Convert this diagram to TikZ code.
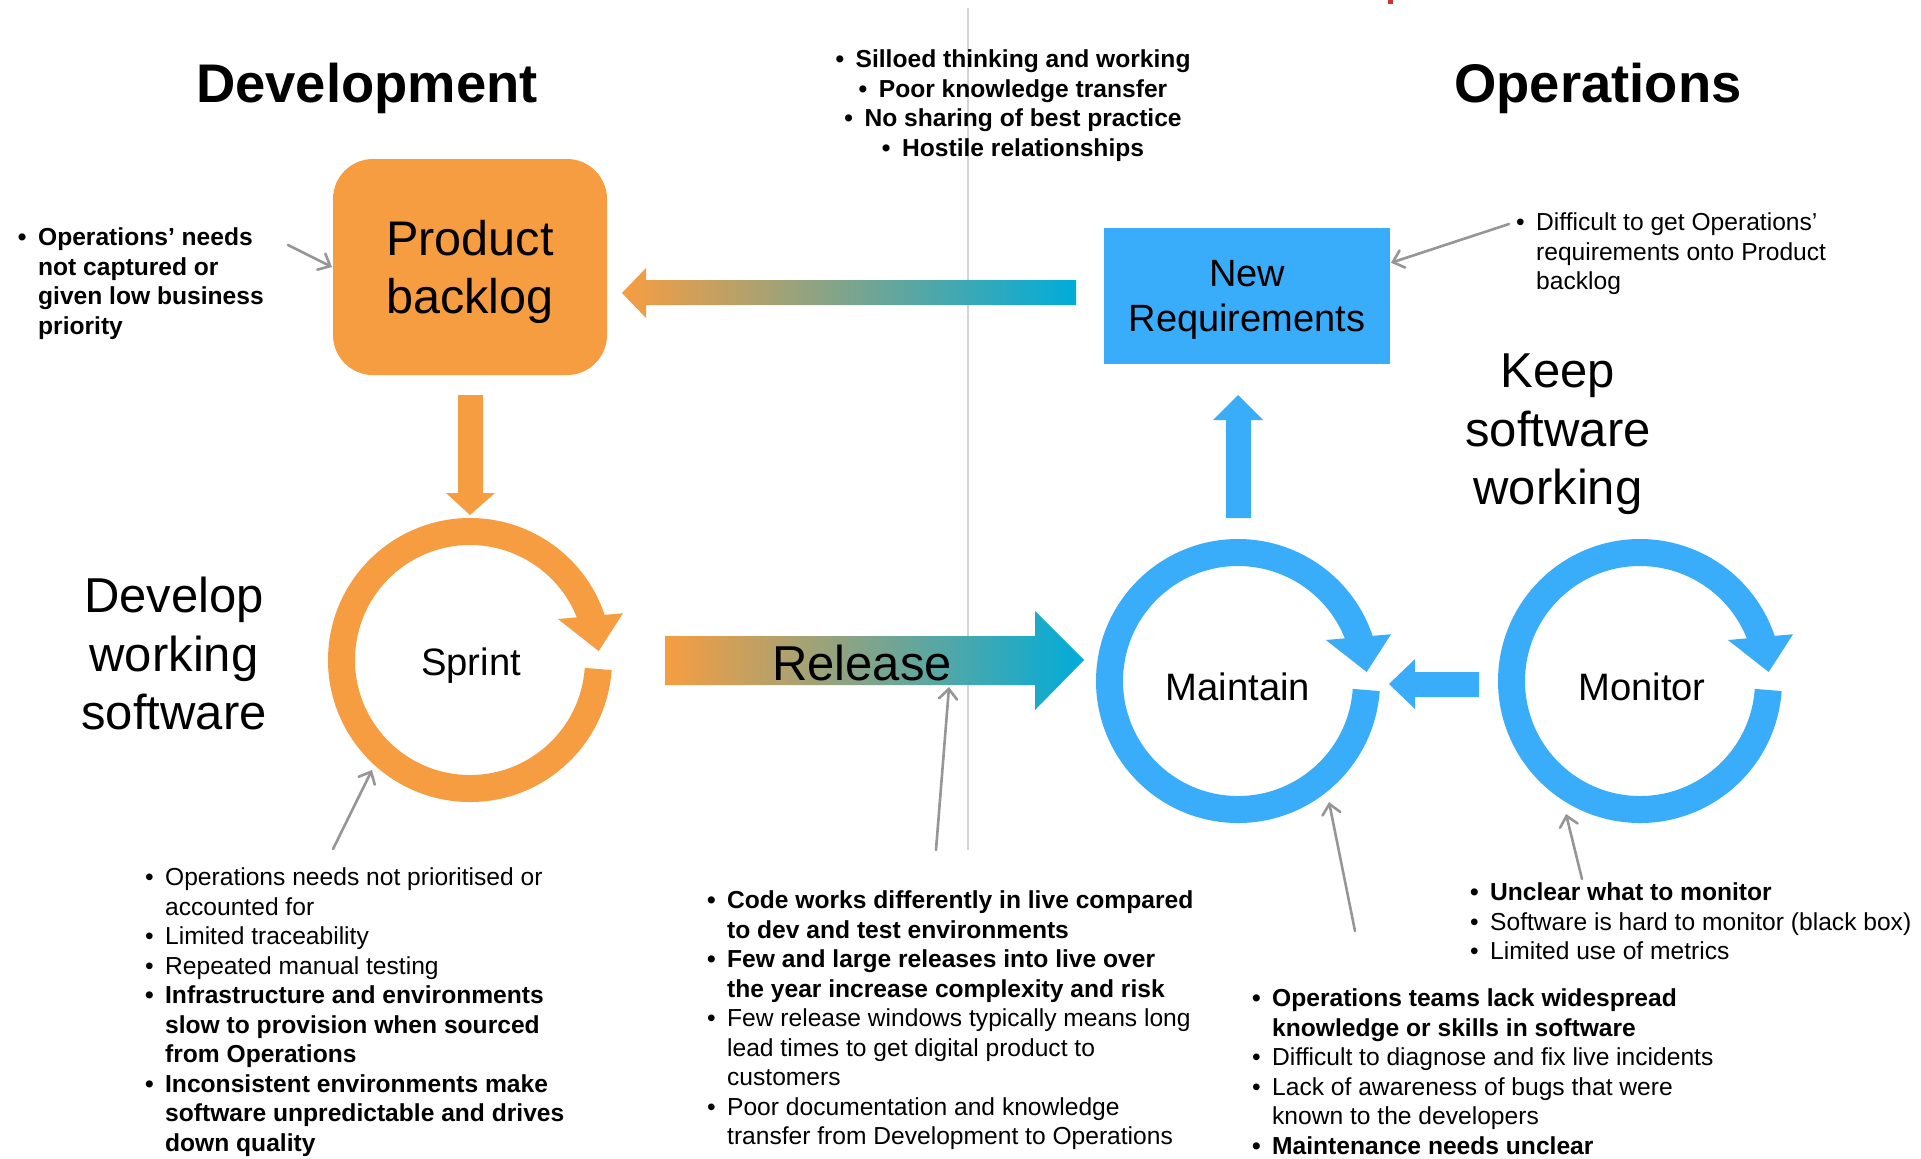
\documentclass[tikz,border=0pt]{standalone}
\usepackage{fontspec}
\setmainfont{Liberation Sans}
\usetikzlibrary{calc}
\usetikzlibrary{arrows.meta}

\definecolor{devorange}{RGB}{247,157,65}
\definecolor{opsblue}{RGB}{58,173,250}
\definecolor{opscyan}{RGB}{0,172,218}
\definecolor{notegray}{RGB}{150,150,150}
\definecolor{linegray}{RGB}{212,212,212}

\providecommand\blt{\makebox[0.82em][l]{\textbullet}}
\providecommand\bltind{\hspace*{0.82em}}

\begin{document}
\begin{tikzpicture}[%
        x = 0.5pt,
        y = -0.5pt,
        line width = 1pt,
        every node/.style = {inner sep = 0pt},
        titletext/.style = {font = \fontsize{27.2}{32}\selectfont\bfseries},
        bigtext/.style = {font = \fontsize{24.5}{29.3}\selectfont, align = center},
        ringtext/.style = {font = \fontsize{19.1}{22}\selectfont},
        notetext/.style = {font = \fontsize{12.3}{14.75}\selectfont, align = left, anchor = north west},
        pointer/.style = {draw = notegray, line width = 1.3pt, line cap = round,
            -{Straight Barb[length = 5pt, width = 9pt, line cap = round]}},
        ring/.style = {draw = #1, line width = 13.5pt},
        ]

\useasboundingbox (0,0) rectangle (1921,1158);
\fill[white] (0,0) rectangle (1921,1158);

% divider and the small red mark at the top
\draw[linegray] (968,8) -- (968,850);
\fill[red!75!black!80] (1388,0) rectangle (1393,4);

\node (devtitle) [titletext, anchor = base] at (367,102) {Development};
\node (opstitle) [titletext, anchor = base] at (1598,102) {Operations};

% boxes
\node (backlog) [fill = devorange, rounded corners = 20pt, minimum width = 137pt,
    minimum height = 108pt, font = \fontsize{24.3}{29}\selectfont, align = center,
    text depth = -2pt] at (470,267) {Product\\backlog};
\node (newreq) [fill = opsblue, minimum width = 143pt, minimum height = 68pt,
    font = \fontsize{19}{22.5}\selectfont, align = center,
    text depth = 0pt] at (1247,296) {New\\Requirements};

% block arrows
\shade[left color = devorange, right color = opscyan]
    (1076,280) -- (646,280) -- (646,268) -- (622,293) -- (646,318) -- (646,305) -- (1076,305) -- cycle;
\shade[left color = devorange, right color = opscyan]
    (665,636) -- (1035,636) -- (1035,611) -- (1084,660) -- (1035,710) -- (1035,685) -- (665,685) -- cycle;
\fill[devorange] (458,395) -- (483,395) -- (483,493) -- (495,493) -- (470,515) -- (446,493) -- (458,493) -- cycle;
\fill[opsblue] (1226,518) -- (1226,420) -- (1213,420) -- (1238,395) -- (1263,420) -- (1251,420) -- (1251,518) -- cycle;
\fill[opsblue] (1479,672) -- (1415,672) -- (1415,659) -- (1389,684) -- (1415,709) -- (1415,697) -- (1479,697) -- cycle;

% cycles
\foreach \NAME/\XPOS/\YPOS/\COL in {sprintc/470/660/devorange, maintainc/1238/681/opsblue, monitorc/1640/681/opsblue}{%
    \coordinate (\NAME) at (\XPOS,\YPOS);
    \draw[ring = \COL] (\NAME) ++(4:128.5) arc[start angle = 4, end angle = 342, radius = 128.5];
    \fill[\COL] ($(\NAME)+(-25:97)$) -- ($(\NAME)+(-17:160)$) -- ($(\NAME)+(-4:129)$) -- cycle;
    }

\node (release) [bigtext, anchor = base] at (862,680) {Release};
\node (sprint) [ringtext, anchor = base] at (471,675) {Sprint};
\node (maintain) [ringtext, anchor = base] at (1238,700) {Maintain};
\node (monitor) [ringtext, anchor = base] at (1642,700) {Monitor};

\node (develop) [bigtext, anchor = north] at (174,576) {Develop\\working\\software};
\node (keep) [bigtext, anchor = north] at (1558,353) {Keep\\software\\working};

% notes
\node (silo) [notetext, align = center, anchor = north] at (1013,49) {%
    \textbf{\blt Silloed thinking and working}\\
    \textbf{\blt Poor knowledge transfer}\\
    \textbf{\blt No sharing of best practice}\\
    \textbf{\blt Hostile relationships}};

\node (noteback) [notetext] at (17,227) {%
    \textbf{\blt Operations’ needs}\\
    \textbf{\bltind not captured or}\\
    \textbf{\bltind given low business}\\
    \textbf{\bltind priority}};

\node (notereq) [notetext] at (1515,212) {%
    \blt Difficult to get Operations’\\
    \bltind requirements onto Product\\
    \bltind backlog};

\node (notesprint) [notetext] at (144,867) {%
    \blt Operations needs not prioritised or\\
    \bltind accounted for\\
    \blt Limited traceability\\
    \blt Repeated manual testing\\
    \textbf{\blt Infrastructure and environments}\\
    \textbf{\bltind slow to provision when sourced}\\
    \textbf{\bltind from Operations}\\
    \textbf{\blt Inconsistent environments make}\\
    \textbf{\bltind software unpredictable and drives}\\
    \textbf{\bltind down quality}};

\node (noterelease) [notetext] at (706,890) {%
    \textbf{\blt Code works differently in live compared}\\
    \textbf{\bltind to dev and test environments}\\
    \textbf{\blt Few and large releases into live over}\\
    \textbf{\bltind the year increase complexity and risk}\\
    \blt Few release windows typically means long\\
    \bltind lead times to get digital product to\\
    \bltind customers\\
    \blt Poor documentation and knowledge\\
    \bltind transfer from Development to Operations};

\node (notemonitor) [notetext] at (1469,882) {%
    \textbf{\blt Unclear what to monitor}\\
    \blt Software is hard to monitor (black box)\\
    \blt Limited use of metrics};

\node (notemaintain) [notetext] at (1251,988) {%
    \textbf{\blt Operations teams lack widespread}\\
    \textbf{\bltind knowledge or skills in software}\\
    \blt Difficult to diagnose and fix live incidents\\
    \blt Lack of awareness of bugs that were\\
    \bltind known to the developers\\
    \textbf{\blt Maintenance needs unclear}};

% pointers
\coordinate (t1) at (288,245);
\coordinate (t2) at (1509,224);
\coordinate (t3) at (333,849);
\coordinate (t4) at (936,850);
\coordinate (t5) at (1355,931);
\coordinate (t6) at (1582,879);
\coordinate (h3) at (372,770);
\coordinate (h4) at (949,687);
\coordinate (h5) at (1329,802);
\coordinate (h6) at (1566,814);

\draw[pointer] (t1) -- (backlog.west);
\draw[pointer] (t2) -- (newreq.13);
\foreach \INDEX in {3,4,5,6}{%
    \draw[pointer] (t\INDEX) -- (h\INDEX);
    }

\end{tikzpicture}
\end{document}
